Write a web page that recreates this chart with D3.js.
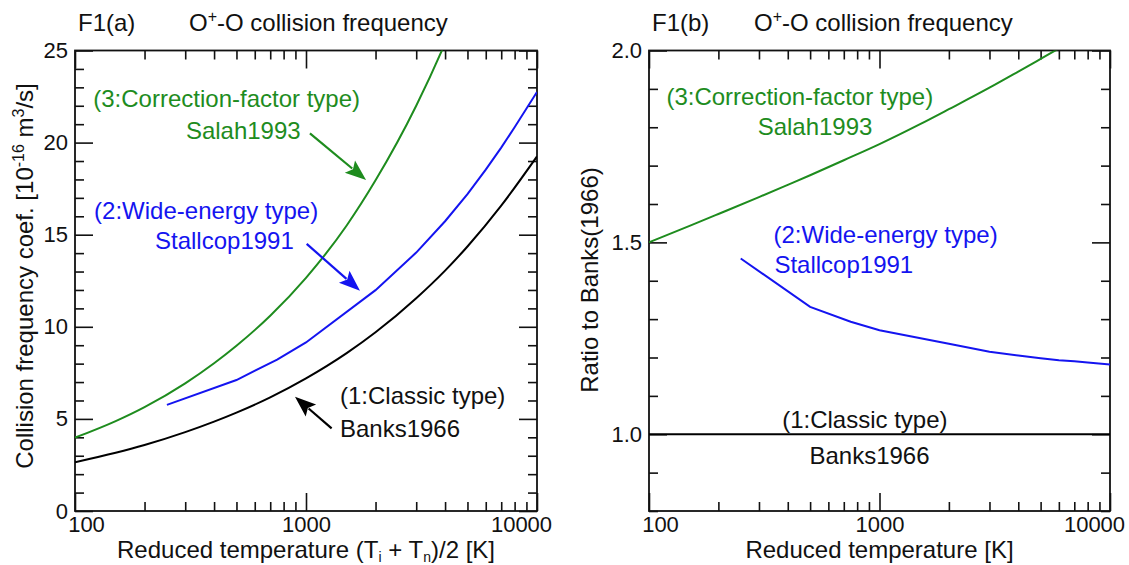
<!DOCTYPE html>
<html>
<head>
<meta charset="utf-8">
<script src="https://cdn.jsdelivr.net/npm/d3@7"></script>
<style>
body { margin: 0; background: #fff; }
svg text { font-family: "Liberation Sans", Arial, sans-serif; }
</style>
</head>
<body>
<script>
const WIDTH = 1129
const HEIGHT = 565
const TOP = 50.5
const BOTTOM = 511
const MAJOR_TICK = 18
const MINOR_TICK = 9
const FONT = 24
const GREEN = '#1e8c1e'
const BLUE = '#1414f0'
const BLACK = '#000'

// values
const T_BANKS = [100, 150, 200, 300, 400, 500, 700, 1000, 1500, 2000, 3000, 4000, 5000, 7000, 10000]
const BANKS = [2.65, 3.16, 3.58, 4.28, 4.85, 5.34, 6.17, 7.2, 8.57, 9.7, 11.55, 13.05, 14.36, 16.58, 19.25]
const T_SALAH = [100, 150, 200, 300, 400, 500, 700, 1000, 1500, 2000, 3000, 4000, 5000]
const SALAH = [3.98, 4.88, 5.64, 6.93, 8.02, 8.97, 10.6, 12.66, 15.5, 17.95, 22.0, 25.4, 28.4]
const T_STALLCOP = [250, 500, 750, 1000, 2000, 3000, 4000, 5000, 6000, 7000, 8000, 10000]
const STALLCOP = [5.76, 7.11, 8.22, 9.15, 11.99, 14.03, 15.73, 17.2, 18.53, 19.73, 20.83, 22.75]

const T_RATIO_SALAH = [100, 150, 200, 300, 400, 500, 700, 1000, 1500, 2000, 3000, 4000, 5000, 7000, 10000]
const RATIO_SALAH = [1.5, 1.543, 1.574, 1.618, 1.65, 1.675, 1.714, 1.756, 1.808, 1.847, 1.903, 1.945, 1.978, 2.028, 2.08]
const RATIO_STALLCOP = [1.458, 1.332, 1.293, 1.271, 1.236, 1.215, 1.205, 1.198, 1.193, 1.19, 1.187, 1.182]
const T_RATIO_BANKS = [100, 10000]
const RATIO_BANKS = [1, 1]

const X_MAJOR = [100, 1000, 10000]
const Y_LEFT_MAJOR = [0, 5, 10, 15, 20, 25]
const Y_RIGHT_MAJOR = [1.0, 1.5, 2.0]

const zip = (xs, ys) => xs.map((x, i) => [x, ys[i]])

const svg = d3.select('body')
    .append('svg')
    .attr('width', WIDTH)
    .attr('height', HEIGHT)

function drawPanel(p) {
    const x = d3.scaleLog().domain([100, 10000]).range([p.left, p.right])
    const y = d3.scaleLinear().domain(p.yDomain).range([BOTTOM, TOP])
    const g = svg.append('g')

    const clipId = 'clip-' + p.id
    svg.append('clipPath').attr('id', clipId)
        .append('rect')
        .attr('x', p.left).attr('y', TOP)
        .attr('width', p.right - p.left).attr('height', BOTTOM - TOP)

    const xMinor = x.ticks().filter(t => !X_MAJOR.includes(t))
    const yMinor = d3.range(p.yDomain[0], p.yDomain[1] + 1e-9, p.yStep)
        .map(v => +v.toFixed(2))
        .filter(v => !p.yMajor.includes(v))

    const axes = [
        [d3.axisBottom(x).tickValues(X_MAJOR).tickSize(-MAJOR_TICK).tickPadding(5).tickFormat(d3.format('d')), BOTTOM, 'x'],
        [d3.axisBottom(x).tickValues(xMinor).tickSize(-MINOR_TICK).tickFormat(''), BOTTOM, 'x'],
        [d3.axisTop(x).tickValues(X_MAJOR).tickSize(-MAJOR_TICK).tickFormat(''), TOP, 'x'],
        [d3.axisTop(x).tickValues(xMinor).tickSize(-MINOR_TICK).tickFormat(''), TOP, 'x'],
        [d3.axisLeft(y).tickValues(p.yMajor).tickSize(-MAJOR_TICK).tickPadding(7).tickFormat(p.yFormat), p.left, 'y'],
        [d3.axisLeft(y).tickValues(yMinor).tickSize(-MINOR_TICK).tickFormat(''), p.left, 'y'],
        [d3.axisRight(y).tickValues(p.yMajor).tickSize(-MAJOR_TICK).tickFormat(''), p.right, 'y'],
        [d3.axisRight(y).tickValues(yMinor).tickSize(-MINOR_TICK).tickFormat(''), p.right, 'y']
    ]
    axes.forEach(([axis, pos, dir]) => {
        const a = g.append('g')
            .attr('transform', dir === 'x' ? `translate(0,${pos})` : `translate(${pos},0)`)
            .call(axis)
        a.select('.domain').remove()
        a.selectAll('line').attr('stroke', '#111').attr('stroke-width', 1.6)
        a.selectAll('text').attr('font-size', 22).attr('fill', '#111')
    })
    // keep the end labels of the log axis inside the frame
    g.selectAll('text').filter(d => d === 100).attr('dx', 11)
    g.selectAll('text').filter(d => d === 10000).attr('dx', -16)

    g.append('rect')
        .attr('x', p.left).attr('y', TOP)
        .attr('width', p.right - p.left).attr('height', BOTTOM - TOP)
        .attr('fill', 'none').attr('stroke', '#111').attr('stroke-width', 1.8)

    const lines = g.append('g').attr('clip-path', `url(#${clipId})`)
    p.series.forEach(s => {
        lines.append('path')
            .datum(s.data)
            .attr('fill', 'none')
            .attr('stroke', s.color)
            .attr('stroke-width', 2)
            .attr('d', d3.line().x(d => x(d[0])).y(d => y(d[1])).curve(s.curve))
    })

    p.labels.forEach(l => {
        g.append('text')
            .attr('x', x(l.t)).attr('y', y(l.v))
            .attr('text-anchor', l.anchor || 'start')
            .attr('font-size', FONT)
            .attr('fill', l.color)
            .text(l.text)
    })

    p.arrows.forEach(a => {
        const x0 = x(a.from[0]), y0 = y(a.from[1])
        const x1 = x(a.to[0]), y1 = y(a.to[1])
        const ang = Math.atan2(y1 - y0, x1 - x0)
        const len = 21, half = 8
        const bx = x1 - len * Math.cos(ang), by = y1 - len * Math.sin(ang)
        g.append('line')
            .attr('x1', x0).attr('y1', y0).attr('x2', bx + 3 * Math.cos(ang)).attr('y2', by + 3 * Math.sin(ang))
            .attr('stroke', a.color).attr('stroke-width', 2.2)
        g.append('path')
            .attr('d', `M${x1},${y1}L${bx - half * Math.sin(ang)},${by + half * Math.cos(ang)}` +
                `L${bx + 4 * Math.cos(ang)},${by + 4 * Math.sin(ang)}` +
                `L${bx + half * Math.sin(ang)},${by - half * Math.cos(ang)}Z`)
            .attr('fill', a.color)
    })

    // panel title
    g.append('text').attr('x', p.left + 3).attr('y', 31).attr('font-size', FONT).attr('fill', '#111')
        .text(p.tag)
    const title = g.append('text').attr('x', p.left + p.titleOffset).attr('y', 31).attr('font-size', FONT).attr('fill', '#111')
    title.append('tspan').text('O')
    title.append('tspan').attr('dy', -9).attr('font-size', 16).text('+')
    title.append('tspan').attr('dy', 9).text('-O collision frequency')

    // x title
    const xt = g.append('text')
        .attr('x', (p.left + p.right) / 2).attr('y', 558)
        .attr('text-anchor', 'middle').attr('font-size', FONT).attr('fill', '#111')
    p.xTitle(xt)

    // y title
    const yt = g.append('text')
        .attr('transform', `translate(${p.yTitleX},${p.yTitleY}) rotate(-90)`)
        .attr('text-anchor', 'middle').attr('font-size', FONT).attr('fill', '#111')
    p.yTitle(yt)
}

drawPanel({
    id: 'a',
    tag: 'F1(a)',
    titleOffset: 114,
    left: 75,
    right: 537,
    yDomain: [0, 25],
    yStep: 1,
    yMajor: Y_LEFT_MAJOR,
    yFormat: d3.format('d'),
    series: [
        { data: zip(T_SALAH, SALAH), color: GREEN, curve: d3.curveMonotoneX },
        { data: zip(T_STALLCOP, STALLCOP), color: BLUE, curve: d3.curveLinear },
        { data: zip(T_BANKS, BANKS), color: BLACK, curve: d3.curveMonotoneX }
    ],
    labels: [
        { text: '(3:Correction-factor type)', t: 120, v: 21.93, color: GREEN },
        { text: 'Salah1993', t: 302, v: 20.2, color: GREEN },
        { text: '(2:Wide-energy type)', t: 121, v: 15.85, color: BLUE },
        { text: 'Stallcop1991', t: 222, v: 14.22, color: BLUE },
        { text: '(1:Classic type)', t: 1403, v: 5.81, color: '#111' },
        { text: 'Banks1966', t: 1403, v: 4.02, color: '#111' }
    ],
    arrows: [
        { from: [1040, 20.5], to: [1820, 17.97], color: GREEN },
        { from: [1007, 14.5], to: [1713, 11.96], color: BLUE },
        { from: [1291, 4.49], to: [896, 6.2], color: BLACK }
    ],
    xTitle: t => {
        t.append('tspan').text('Reduced temperature (T')
        t.append('tspan').attr('dy', 4).attr('font-size', 14).text('i')
        t.append('tspan').attr('dy', -4).text(' + T')
        t.append('tspan').attr('dy', 4).attr('font-size', 14).text('n')
        t.append('tspan').attr('dy', -4).text(')/2 [K]')
    },
    yTitleX: 33,
    yTitleY: 276,
    yTitle: t => {
        t.append('tspan').text('Collision frequency coef. [10')
        t.append('tspan').attr('dy', -9).attr('font-size', 16).text('-16')
        t.append('tspan').attr('dy', 9).text(' m')
        t.append('tspan').attr('dy', -9).attr('font-size', 16).text('3')
        t.append('tspan').attr('dy', 9).text('/s]')
    }
})

drawPanel({
    id: 'b',
    tag: 'F1(b)',
    titleOffset: 105,
    left: 649,
    right: 1110,
    yDomain: [0.8, 2.0],
    yStep: 0.1,
    yMajor: Y_RIGHT_MAJOR,
    yFormat: d3.format('.1f'),
    series: [
        { data: zip(T_RATIO_SALAH, RATIO_SALAH), color: GREEN, curve: d3.curveMonotoneX },
        { data: zip(T_STALLCOP, RATIO_STALLCOP), color: BLUE, curve: d3.curveLinear },
        { data: zip(T_RATIO_BANKS, RATIO_BANKS), color: BLACK, curve: d3.curveLinear }
    ],
    labels: [
        { text: '(3:Correction-factor type)', t: 119, v: 1.858, color: GREEN },
        { text: 'Salah1993', t: 296, v: 1.78, color: GREEN },
        { text: '(2:Wide-energy type)', t: 347, v: 1.498, color: BLUE },
        { text: 'Stallcop1991', t: 350, v: 1.42, color: BLUE },
        { text: '(1:Classic type)', t: 864, v: 1.016, color: '#111', anchor: 'middle' },
        { text: 'Banks1966', t: 905, v: 0.922, color: '#111', anchor: 'middle' }
    ],
    arrows: [],
    xTitle: t => t.text('Reduced temperature [K]'),
    yTitleX: 598,
    yTitleY: 280,
    yTitle: t => t.text('Ratio to Banks(1966)')
})
</script>
</body>
</html>
